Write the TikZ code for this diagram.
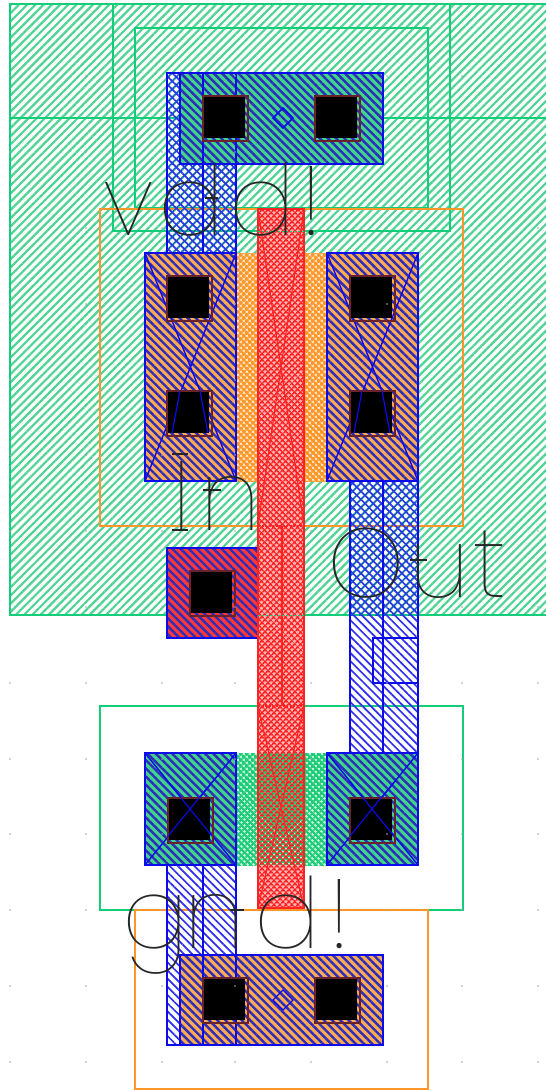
\documentclass[tikz,border=0pt]{standalone}
\usepackage{fontspec}
\usetikzlibrary{patterns.meta}
\newfontfamily\thinfont{Poppins Thin}
\definecolor{wellg}{RGB}{80,212,148}
\definecolor{solidg}{RGB}{30,205,120}
\definecolor{lineg}{RGB}{20,205,120}
\definecolor{orng}{RGB}{255,150,40}
\definecolor{metb}{RGB}{10,10,235}
\definecolor{stripeb}{RGB}{45,45,185}
\definecolor{polyr}{RGB}{255,35,35}
\definecolor{dkr}{RGB}{105,35,40}
\definecolor{dotc}{RGB}{160,160,195}
\tikzset{
 x=1pt,y=-1pt,
 wellh/.style={pattern={Lines[angle=45,distance=5.8pt,line width=2.2pt]},pattern color=wellg},
 metalh/.style={pattern={Lines[angle=-45,distance=5.8pt,line width=1.7pt]},pattern color=metb!85!white},
 metalx/.style={pattern={Lines[angle=45,distance=5.8pt,line width=1.2pt]},pattern color=metb!70!wellg},
 darkstripe/.style={pattern={Lines[angle=-45,distance=5.8pt,line width=2.4pt]},pattern color=stripeb},
 polyh/.style={pattern={Lines[angle=45,distance=4pt,line width=1.7pt]},pattern color=polyr},
 polyv/.style={pattern={Lines[angle=-45,distance=4pt,line width=1.7pt]},pattern color=polyr},
 greenx/.style={pattern={Lines[angle=45,distance=4pt,line width=2.3pt]},pattern color=solidg},
 greeny/.style={pattern={Lines[angle=-45,distance=4pt,line width=2.3pt]},pattern color=solidg},
 orngx/.style={pattern={Lines[angle=45,distance=4pt,line width=2.3pt]},pattern color=orng},
 orngy/.style={pattern={Lines[angle=-45,distance=4pt,line width=2.3pt]},pattern color=orng},
 wellline/.style={draw=lineg,line width=1.4pt},
 ornline/.style={draw=orng,line width=1.5pt},
 metline/.style={draw=metb,line width=1.9pt},
 polyline/.style={draw=polyr,line width=1.2pt},
 contactb/.style={draw=dkr,line width=1.3pt},
 letter/.style={inner sep=0pt,anchor=base west,text=black!85,font=\thinfont\fontsize{98}{98}\selectfont},
 tick/.style={draw=black!85,line width=1.1pt},
}
\newcommand\contactat[2]{%
 \draw[contactb] (#1,#2) rectangle ++(45,45);
 \fill[black] (#1+1,#2+1) rectangle ++(41,41);
}
\begin{document}
\begin{tikzpicture}
\useasboundingbox (0,0) rectangle (546,1090);
\fill[white] (0,0) rectangle (546,1090);
% n-well
\fill[wellh] (10,4) rectangle (546,615);
\draw[wellline] (546,4) -- (10,4) -- (10,615) -- (546,615);
\draw[wellline] (113,4) -- (113,231) -- (450,231) -- (450,4);
\draw[wellline] (135,208) -- (135,28) -- (428,28) -- (428,208) -- cycle;
\draw[wellline] (10,118) -- (546,118);
% wells / select outlines
\draw[ornline] (100,209) rectangle (463,526);
\draw[wellline] (100,706) rectangle (463,910);
\draw[ornline] (135,910) rectangle (428,1089);
% diffusion
\fill[white!75!orng] (236,253) rectangle (327,481);
\fill[orngx] (236,253) rectangle (327,481);
\fill[orngy] (236,253) rectangle (327,481);
\fill[white!75!solidg] (236,753) rectangle (327,865);
\fill[greenx] (236,753) rectangle (327,865);
\fill[greeny] (236,753) rectangle (327,865);
\fill[orng!80!white] (145,253) rectangle (236,481);
\fill[orng!80!white] (327,253) rectangle (418,481);
\fill[darkstripe] (145,253) rectangle (236,481);
\fill[darkstripe] (327,253) rectangle (418,481);
\fill[solidg!85!white] (145,753) rectangle (236,865);
\fill[solidg!85!white] (327,753) rectangle (418,865);
\fill[darkstripe] (145,753) rectangle (236,865);
\fill[darkstripe] (327,753) rectangle (418,865);
\fill[solidg!85!white] (180,73) rectangle (383,164);
\fill[darkstripe] (180,73) rectangle (383,164);
\fill[orng!80!white] (180,955) rectangle (383,1045);
\fill[darkstripe] (180,955) rectangle (383,1045);
\fill[polyr!90!white] (167,548) rectangle (258,638);
\fill[darkstripe] (167,548) rectangle (258,638);
% X marks under upper contacts
\foreach \xa/\xb/\ya/\yb in {145/236/253/481,327/418/253/481,145/236/753/865,327/418/753/865}{
 \draw[metline,line width=1.4pt] (\xa,\ya) -- (\xb,\yb) (\xa,\yb) -- (\xb,\ya);
}
% metal 1
\fill[metalh] (167,73) rectangle (180,164);
\fill[metalx] (167,73) rectangle (180,164);
\fill[metalh] (167,164) rectangle (236,253);
\fill[metalx] (167,164) rectangle (236,253);
\fill[metalh] (350,481) rectangle (418,615);
\fill[metalx] (350,481) rectangle (418,615);
\fill[metalh] (350,615) rectangle (418,753);
\fill[metalh] (167,865) rectangle (236,955);
\fill[metalh] (167,955) rectangle (180,1045);
\draw[metline] (167,73) rectangle (236,253);
\draw[metline] (203,73) -- (203,253);
\draw[metline] (180,73) rectangle (383,164);
\draw[metline] (350,481) rectangle (418,753);
\draw[metline] (383,481) -- (383,753);
\draw[metline,line width=1.6pt] (373,638) rectangle (418,683);
\draw[metline] (167,865) rectangle (236,1045);
\draw[metline] (203,865) -- (203,1045);
\draw[metline] (180,955) rectangle (383,1045);
\draw[metline] (145,253) rectangle (236,481);
\draw[metline] (327,253) rectangle (418,481);
\draw[metline] (145,753) rectangle (236,865);
\draw[metline] (327,753) rectangle (418,865);
\draw[metline] (167,548) rectangle (258,638);
\draw[metline,line width=1.5pt] (283,108) -- (293,118) -- (283,128) -- (273,118) -- cycle;
\draw[metline,line width=1.2pt] (283,990) -- (293,1000) -- (283,1010) -- (273,1000) -- cycle;
% polysilicon
\fill[white!65!polyr] (258,209) rectangle (304,753);
\fill[white!65!polyr] (258,865) rectangle (304,908);
\fill[polyh] (258,209) rectangle (304,908);
\fill[polyv] (258,209) rectangle (304,908);
\draw[polyline,line width=2pt] (258,209) rectangle (304,908);
\draw[polyline,dash pattern=on 2pt off 1.5pt] (258,526) -- (304,526);
\draw[polyline,dash pattern=on 2pt off 1.5pt] (258,706) -- (304,706);
\draw[polyline] (282,526) -- (282,706);
\draw[polyline] (258,209) -- (304,526) (304,209) -- (258,526);
\draw[polyline] (258,706) -- (304,908) (304,706) -- (258,908);
\draw[wellline,line width=1pt,dash pattern=on 1.5pt off 2.5pt] (258,231) -- (304,231);
\draw[wellline,line width=1pt,dash pattern=on 1.5pt off 2.5pt] (258,615) -- (304,615);
% contacts
\contactat{203}{96}
\contactat{315}{96}
\contactat{167}{276}
\contactat{350}{276}
\contactat{167}{391}
\contactat{350}{391}
\contactat{190}{571}
\contactat{168}{798}
\contactat{350}{798}
\contactat{203}{978}
\contactat{315}{978}
% X over lower and nmos contacts
\draw[metline,line width=1.2pt] (172,433) -- (180,391) (208,433) -- (200,391);
\draw[metline,line width=1.2pt] (354,433) -- (362,391) (390,433) -- (382,391);
\draw[metline,line width=1.1pt] (168,836) -- (212,782) (212,836) -- (168,782);
\draw[metline,line width=1.1pt] (350,836) -- (394,782) (394,836) -- (350,782);
% grid
\foreach \gx in {10,86,162,235,311,387,462,538}{
 \foreach \gy in {76,152,228,304,380,455,531,607,683,759,834,910,986,1062}{
  \fill[dotc] (\gx,\gy) circle (0.9);
 }
}
% labels
\node[letter] (vddlbl) at (103,235) {v\kern5pt d\kern5pt d\kern5pt !};
\node[letter] (inlbl) at (172,530) {I\kern10pt n};
\node[letter] (outlbl) at (327,597) {O\kern5pt u\kern4pt t};
\node[letter] (gndlbl) at (122,948) {g\kern-4pt n\kern10pt d\kern9pt !};
\draw[tick] (172,454) -- (188,454) (172,530) -- (188,530);
\draw[tick] (205,198) -- (218,198);
\draw[tick] (203,490) -- (221,490);
\draw[tick] (410,560) -- (427,560);
\draw[tick] (230,910) -- (244,910);
\end{tikzpicture}
\end{document}
